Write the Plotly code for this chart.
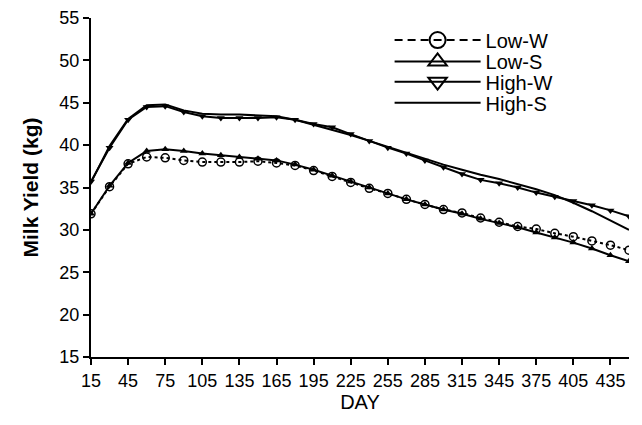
import plotly.graph_objects as go

days = [15, 30, 45, 60, 75, 90, 105, 120, 135, 150, 165, 180, 195, 210, 225,
        240, 255, 270, 285, 300, 315, 330, 345, 360, 375, 390, 405, 420, 435, 450]

low_w = [31.9, 35.1, 37.8, 38.6, 38.5, 38.2, 38.0, 38.0, 38.0, 38.1, 37.9, 37.6, 37.0, 36.3, 35.6,
         34.9, 34.3, 33.6, 33.0, 32.4, 32.0, 31.4, 30.9, 30.4, 30.1, 29.6, 29.2, 28.7, 28.2, 27.6]
low_s = [31.9, 35.2, 37.9, 39.3, 39.5, 39.3, 39.0, 38.8, 38.6, 38.4, 38.2, 37.7, 37.1, 36.4, 35.7,
         35.0, 34.3, 33.6, 33.0, 32.4, 31.9, 31.3, 30.8, 30.3, 29.7, 29.1, 28.5, 27.8, 27.0, 26.3]
high_w = [35.7, 39.7, 43.0, 44.5, 44.6, 43.9, 43.4, 43.2, 43.2, 43.2, 43.3, 43.0, 42.5, 42.1, 41.3,
          40.5, 39.7, 39.0, 38.2, 37.4, 36.6, 35.9, 35.5, 35.0, 34.4, 33.9, 33.4, 32.9, 32.3, 31.6]
high_s = [35.6, 39.9, 43.1, 44.7, 44.8, 44.1, 43.7, 43.6, 43.6, 43.5, 43.4, 43.0, 42.4, 41.8, 41.2,
          40.5, 39.8, 39.1, 38.4, 37.7, 37.1, 36.5, 36.0, 35.4, 34.8, 34.1, 33.2, 32.2, 31.1, 30.0]

x_ticks = list(range(15, 436, 30))
y_ticks = list(range(15, 56, 5))

FONT = "Liberation Sans, Arial, sans-serif"
fig = go.Figure()

# data traces
fig.add_trace(go.Scatter(x=days, y=low_w, mode="lines+markers", showlegend=False,
                         line=dict(color="black", width=2, dash="3px,3px"),
                         marker=dict(symbol="circle-open", size=8, color="black",
                                     line=dict(width=1.5, color="black"))))
fig.add_trace(go.Scatter(x=days, y=low_s, mode="lines+markers", showlegend=False,
                         line=dict(color="black", width=2),
                         marker=dict(symbol="triangle-up", size=7, color="black")))
fig.add_trace(go.Scatter(x=days, y=high_w, mode="lines+markers", showlegend=False,
                         line=dict(color="black", width=2),
                         marker=dict(symbol="triangle-down", size=7, color="black")))
fig.add_trace(go.Scatter(x=days, y=high_s, mode="lines", showlegend=False,
                         line=dict(color="black", width=2)))

# legend entries (one legend per row for exact row spacing)
fig.add_trace(go.Scatter(x=[None], y=[None], mode="lines+markers", name="Low-W", legend="legend",
                         line=dict(color="black", width=2, dash="8px,5px"),
                         marker=dict(symbol="circle-open", size=20, color="black",
                                     line=dict(width=2, color="black"))))
fig.add_trace(go.Scatter(x=[None], y=[None], mode="lines+markers", name="Low-S", legend="legend2",
                         line=dict(color="black", width=2),
                         marker=dict(symbol="triangle-up-open", size=20, color="black",
                                     line=dict(width=2, color="black"))))
fig.add_trace(go.Scatter(x=[None], y=[None], mode="lines+markers", name="High-W", legend="legend3",
                         line=dict(color="black", width=2),
                         marker=dict(symbol="triangle-down-open", size=20, color="black",
                                     line=dict(width=2, color="black"))))
fig.add_trace(go.Scatter(x=[None], y=[None], mode="lines", name="High-S", legend="legend4",
                         line=dict(color="black", width=2)))

def leg(y):
    return dict(x=0.555, y=y, xanchor="left", yanchor="middle",
                bgcolor="rgba(0,0,0,0)", font=dict(size=20, family=FONT),
                itemwidth=86, tracegroupgap=0)

fig.update_layout(
    width=634, height=417,
    margin=dict(l=83, r=13, t=10, b=68, autoexpand=False),
    paper_bgcolor="white", plot_bgcolor="white",
    font=dict(family=FONT, size=18, color="black"),
    legend=leg(0.935), legend2=leg(0.872), legend3=leg(0.812), legend4=leg(0.750),
    xaxis=dict(range=[15, 450], tickmode="array", tickvals=x_ticks,
               ticktext=[str(t) for t in x_ticks], automargin=False,
               showgrid=False, zeroline=False, showline=True, linecolor="black", linewidth=2,
               ticks="outside", ticklen=6, tickwidth=2, tickcolor="black",
               tickfont=dict(size=18, family=FONT),
               title=dict(text="DAY", font=dict(size=20, family=FONT), standoff=0)),
    yaxis=dict(range=[15, 55], tickmode="array", tickvals=y_ticks,
               ticktext=[str(t) for t in y_ticks], automargin=False,
               showgrid=False, zeroline=False, showline=True, linecolor="black", linewidth=2,
               ticks="outside", ticklen=6, tickwidth=2, tickcolor="black",
               tickfont=dict(size=18, family=FONT),
               title=dict(text="<b>Milk Yield (kg)</b>", font=dict(size=21, family=FONT), standoff=15)),
)

fig.write_html("out.html")
